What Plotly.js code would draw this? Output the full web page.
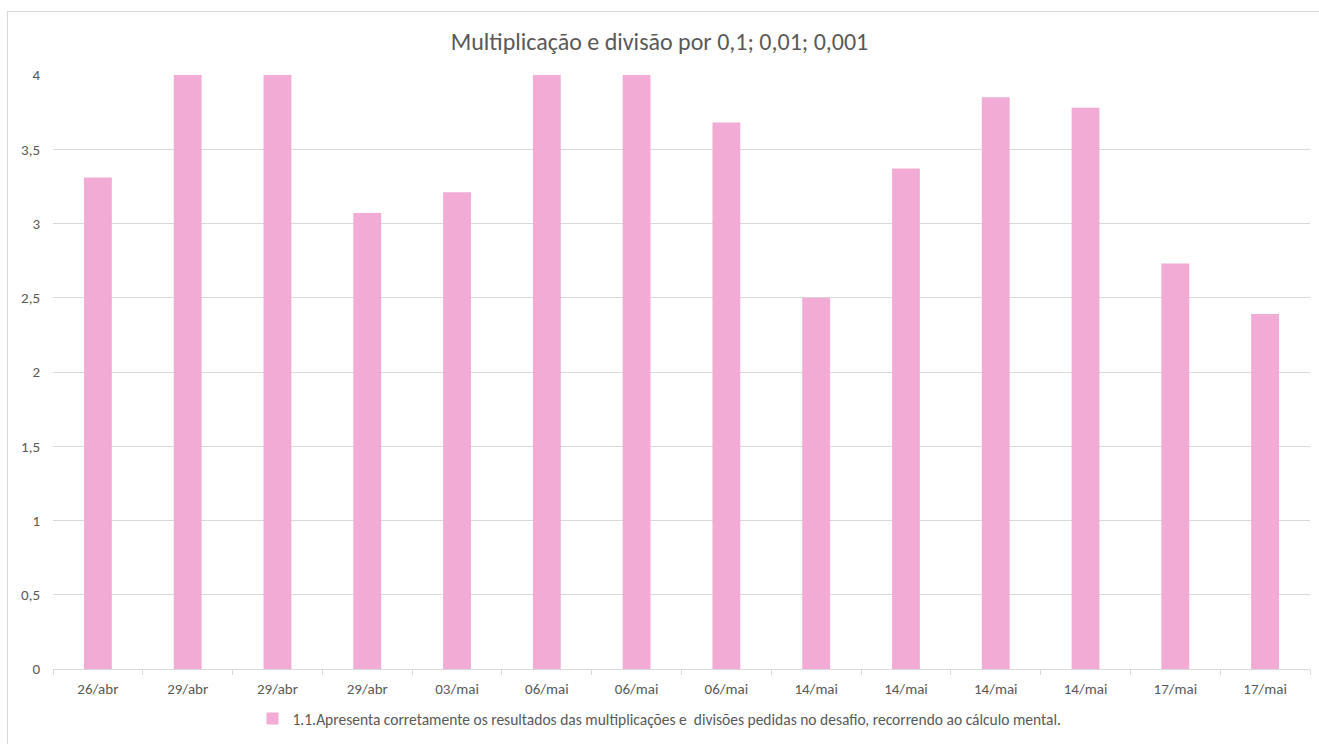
<!DOCTYPE html>
<html>
<head>
<meta charset="utf-8">
<script src="https://cdn.plot.ly/plotly-3.0.1.min.js"></script>
<style>
  html, body { margin: 0; padding: 0; background: #ffffff; overflow: hidden; }
  #frame { position: absolute; left: 7px; top: 11px; width: 1330px; height: 760px; border: 1px solid #d9d9d9; box-sizing: border-box; }
  #chart { position: absolute; left: 0; top: 0; width: 1319px; height: 744px; }
</style>
</head>
<body>
<div id="frame"></div>
<div id="chart"></div>
<script>
const categories = ["26/abr", "29/abr", "29/abr", "29/abr", "03/mai", "06/mai", "06/mai", "06/mai", "14/mai", "14/mai", "14/mai", "14/mai", "17/mai", "17/mai"];
const values = [3.31, 4, 4, 3.07, 3.21, 4, 4, 3.68, 2.5, 3.37, 3.85, 3.78, 2.73, 2.39];
const seriesName = "1.1.Apresenta corretamente os resultados das multiplicações e  divisões pedidas no desafio, recorrendo ao cálculo mental.";
const chartTitle = "Multiplicação e divisão por 0,1; 0,01; 0,001";
const yTicks = [0, 0.5, 1, 1.5, 2, 2.5, 3, 3.5, 4];

const positions = categories.map((c, i) => i);
const boundaries = categories.map((c, i) => i - 0.5).concat([categories.length - 0.5]);

const fontFamily = "Carlito, Lato, 'Open Sans', sans-serif";
const textColor = "#595959";

const trace = {
  type: "bar",
  x: positions,
  y: values,
  name: seriesName,
  marker: { color: "#F2ABD4" },
  width: 0.31,
  hoverinfo: "y",
  showlegend: true
};

const layout = {
  width: 1319,
  height: 744,
  paper_bgcolor: "rgba(0,0,0,0)",
  plot_bgcolor: "rgba(0,0,0,0)",
  separators: ",.",
  font: { family: fontFamily, color: textColor, size: 15 },
  margin: { l: 53, r: 9, t: 75, b: 75, pad: 0 },
  title: {
    text: chartTitle,
    font: { family: fontFamily, size: 24, color: textColor },
    x: 0.5, xanchor: "center",
    y: 1 - 42 / 744, yref: "container", yanchor: "middle"
  },
  xaxis: {
    range: [-0.5, categories.length - 0.5],
    tickmode: "array",
    tickvals: positions,
    ticktext: categories,
    ticks: "",
    showgrid: false,
    zeroline: false,
    showline: true,
    linecolor: "#d9d9d9",
    linewidth: 1,
    tickfont: { size: 15, color: textColor },
    ticklabelstandoff: 6,
    minor: {
      tickmode: "array",
      tickvals: boundaries,
      ticks: "outside",
      ticklen: 5,
      tickcolor: "#d9d9d9",
      tickwidth: 1,
      showgrid: false
    },
    fixedrange: true
  },
  yaxis: {
    range: [0, 4],
    tickmode: "array",
    tickvals: yTicks,
    ticktext: yTicks.map(v => String(v).replace(".", ",")),
    showgrid: true,
    gridcolor: "#d9d9d9",
    gridwidth: 1,
    zeroline: false,
    showline: false,
    ticks: "",
    tickfont: { size: 15, color: textColor },
    ticklabelstandoff: 12,
    fixedrange: true
  },
  showlegend: true,
  legend: {
    orientation: "h",
    x: 0.5, xanchor: "center", xref: "container",
    y: 1 - 719 / 744, yanchor: "middle", yref: "container",
    font: { size: 15.5, color: textColor },
    itemwidth: 30,
    bgcolor: "rgba(0,0,0,0)"
  },
  bargap: 0.69
};

Plotly.newPlot("chart", [trace], layout, { displayModeBar: false, staticPlot: true });
</script>
</body>
</html>
